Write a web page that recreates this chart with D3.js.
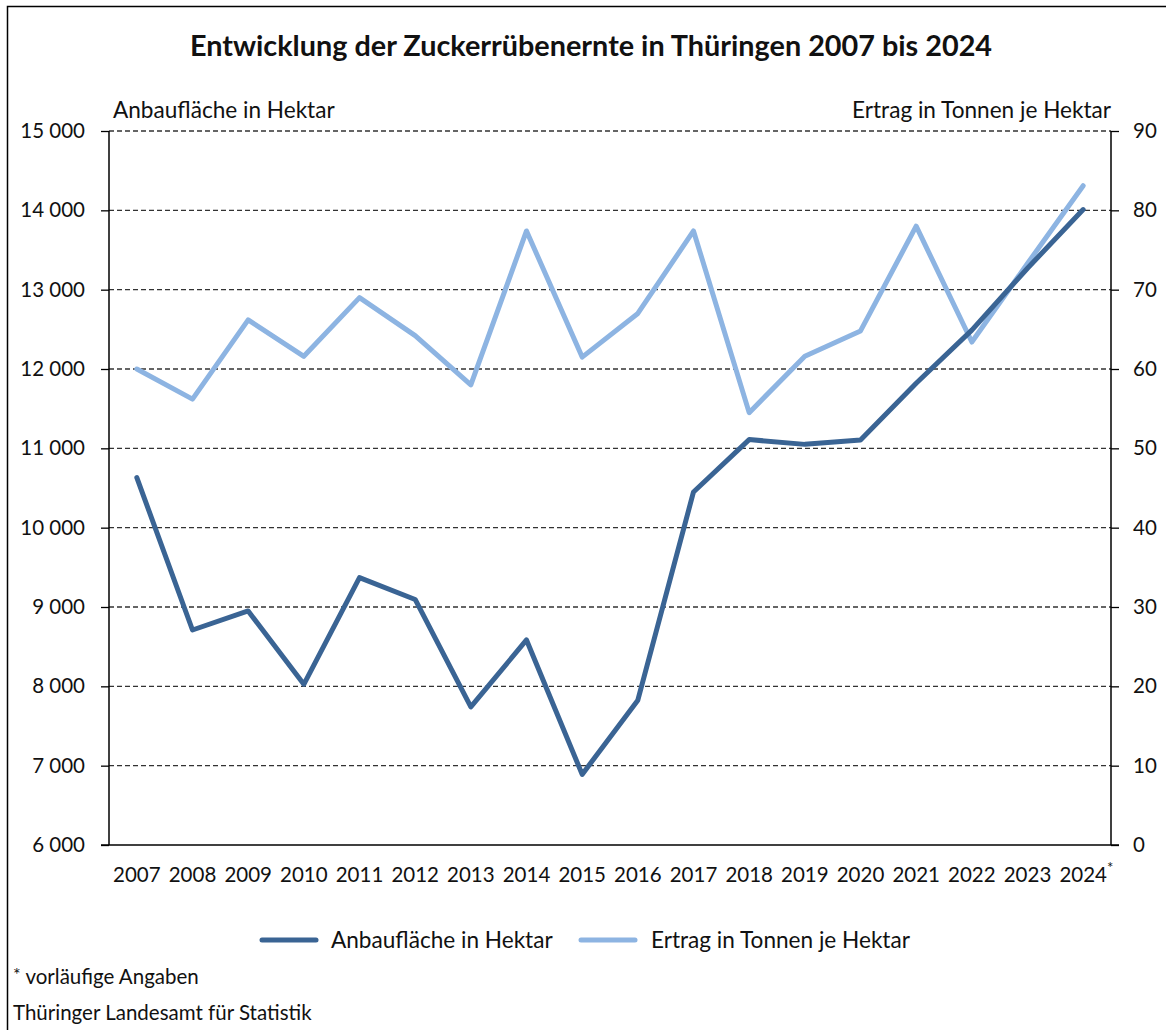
<!DOCTYPE html>
<html><head><meta charset="utf-8">
<script src="https://cdn.jsdelivr.net/npm/d3@7"></script>
<style>
html,body{margin:0;padding:0;background:#fff;}
svg text{font-family:Lato,"Noto Sans",sans-serif;fill:#111;}
</style></head>
<body>
<svg id="chart" width="1166" height="1030"></svg>
<script>
const years = ["2007","2008","2009","2010","2011","2012","2013","2014","2015","2016","2017","2018","2019","2020","2021","2022","2023","2024"];
const anbauflaeche = [10630, 8710, 8950, 8025, 9370, 9095, 7740, 8585, 6890, 7825, 10450, 11110, 11050, 11105, 11820, 12490, 13270, 14010];
const ertrag = [60.0, 56.2, 66.2, 61.6, 69.0, 64.2, 58.0, 77.4, 61.5, 67.0, 77.4, 54.5, 61.6, 64.8, 78.0, 63.4, 73.3, 83.1];
const leftTicks = [6000,7000,8000,9000,10000,11000,12000,13000,14000,15000];
const rightTicks = [0,10,20,30,40,50,60,70,80,90];
const seriesNames = ["Anbaufläche in Hektar","Ertrag in Tonnen je Hektar"];
const colors = ["#3A6494","#8DB4E2"];

const svg = d3.select("#chart");
const L = 109, R = 1111, T = 131, B = 845;

svg.append("rect").attr("x",7.5).attr("y",6.5).attr("width",1165).attr("height",1035)
  .attr("fill","none").attr("stroke","#000").attr("stroke-width",1.5);

const x = d3.scaleBand().domain(years).range([L,R]);
const yL = d3.scaleLinear().domain([6000,15000]).range([B,T]);
const yR = d3.scaleLinear().domain([0,90]).range([B,T]);

// gridlines
svg.append("g").selectAll("line").data(leftTicks.filter(t=>t>6000)).join("line")
  .attr("x1",L).attr("x2",R).attr("y1",d=>yL(d)).attr("y2",d=>yL(d))
  .attr("stroke","#333").attr("stroke-width",1.3).attr("stroke-dasharray","5,3");

// left axis
const gl = svg.append("g").attr("transform",`translate(${L},0)`)
  .call(d3.axisLeft(yL).tickValues(leftTicks).tickSize(8).tickPadding(16).tickFormat(d=>d3.format(",")(d).replace(","," ")));
gl.select(".domain").attr("stroke","#000").attr("stroke-width",1.5).attr("d",`M0,${T}V${B}`);
gl.selectAll(".tick line").attr("stroke","#000").attr("stroke-width",1.3);
gl.selectAll(".tick text").attr("font-size",20.5).attr("fill","#111").attr("font-family","Lato,sans-serif");

// right axis
const gr = svg.append("g").attr("transform",`translate(${R},0)`)
  .call(d3.axisRight(yR).tickValues(rightTicks).tickSize(8).tickPadding(14));
gr.select(".domain").attr("stroke","#000").attr("stroke-width",1.5).attr("d",`M0,${T}V${B}`);
gr.selectAll(".tick line").attr("stroke","#000").attr("stroke-width",1.3);
gr.selectAll(".tick text").attr("font-size",20.5).attr("fill","#111").attr("font-family","Lato,sans-serif");

// bottom axis
const gb = svg.append("g").attr("transform",`translate(0,${B})`)
  .call(d3.axisBottom(x).tickSize(0).tickPadding(22));
gb.select(".domain").attr("stroke","#000").attr("stroke-width",1.5).attr("d",`M${L-8},0H${R+8}`);
gb.selectAll(".tick text").attr("font-size",20.5).attr("fill","#111").attr("font-family","Lato,sans-serif");
gb.selectAll(".tick").filter(d=>d==="2024").append("text")
  .attr("x",27).attr("y",28).attr("font-size",15).attr("fill","#111").text("*");

// lines
const cx = d => x(d) + x.bandwidth()/2;
const lineL = d3.line().x((d,i)=>cx(years[i])).y(d=>yL(d));
const lineR = d3.line().x((d,i)=>cx(years[i])).y(d=>yR(d));
svg.append("path").datum(ertrag).attr("d",lineR).attr("fill","none")
  .attr("stroke",colors[1]).attr("stroke-width",5).attr("stroke-linejoin","round").attr("stroke-linecap","round");
svg.append("path").datum(anbauflaeche).attr("d",lineL).attr("fill","none")
  .attr("stroke",colors[0]).attr("stroke-width",5).attr("stroke-linejoin","round").attr("stroke-linecap","round");

// titles
svg.append("text").attr("x",591).attr("y",56).attr("text-anchor","middle")
  .attr("font-size",28.8).attr("font-weight","bold").text("Entwicklung der Zuckerrübenernte in Thüringen 2007 bis 2024");
svg.append("text").attr("x",113).attr("y",118).attr("font-size",22.6).text("Anbaufläche in Hektar");
svg.append("text").attr("x",1111).attr("y",118).attr("text-anchor","end").attr("font-size",22.6).text("Ertrag in Tonnen je Hektar");

// legend
const leg = [{x:262,t:331},{x:581,t:651}];
seriesNames.forEach((n,i)=>{
  svg.append("line").attr("x1",leg[i].x).attr("x2",leg[i].x+54).attr("y1",940).attr("y2",940)
    .attr("stroke",colors[i]).attr("stroke-width",5).attr("stroke-linecap","round");
  svg.append("text").attr("x",leg[i].t).attr("y",948).attr("font-size",22.6).text(n);
});

// footnotes
const fn = svg.append("text").attr("x",13).attr("y",984).attr("font-size",20.5);
fn.append("tspan").attr("font-size",18).attr("dy",-3).text("*");
fn.append("tspan").attr("dy",3).text(" vorläufige Angaben");
svg.append("text").attr("x",13).attr("y",1020).attr("font-size",20.5).text("Thüringer Landesamt für Statistik");
</script>
</body></html>
